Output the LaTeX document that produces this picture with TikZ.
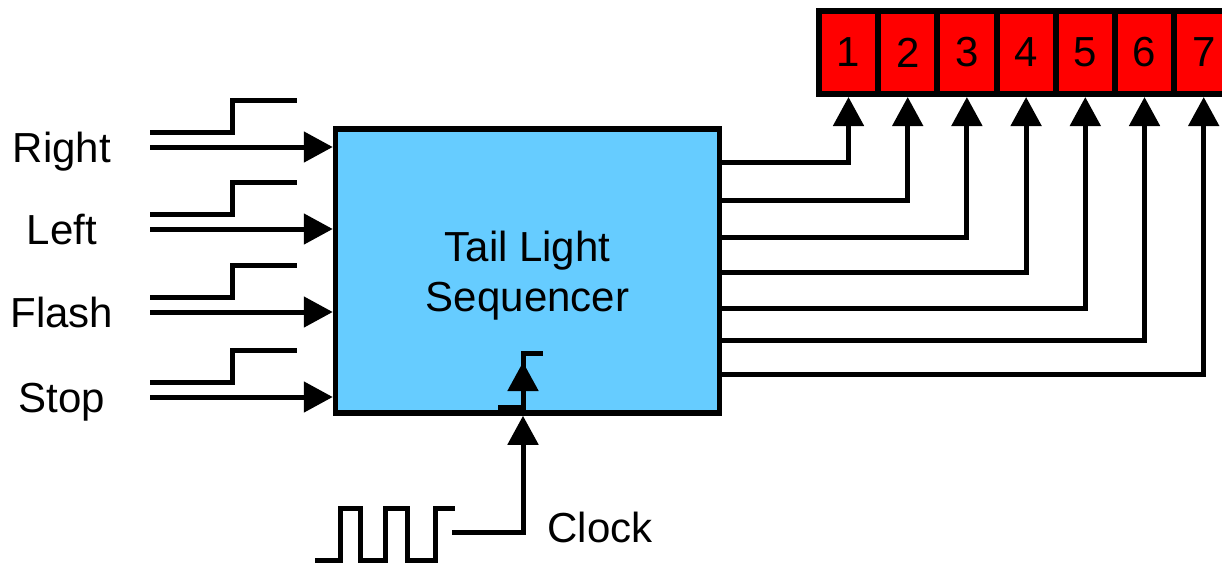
\documentclass[tikz,border=0pt]{standalone}
\usepackage{fontspec}
\setmainfont{Liberation Sans}
\usepackage{tikz}
\usetikzlibrary{positioning}
\usetikzlibrary{arrows.meta}
\definecolor{seqblue}{RGB}{102,204,255}
\definecolor{lampred}{RGB}{255,0,0}

\begin{document}
\begin{tikzpicture}[x=1pt, y=-1pt, line width=5pt,
  txt/.style={font=\fontsize{42}{50}\selectfont, inner sep=0pt},
  sig/.style={line width=5pt, -{Triangle[length=29pt,width=30pt]}},
  wave/.style={line width=5pt},
  lamp/.style={draw, line width=6pt, fill=lampred, minimum width=59.2pt, minimum height=83pt, inner sep=0pt, txt}]
\useasboundingbox (0,0) rectangle (1222,563);
% -- sequencer block --
\node[draw, fill=seqblue, line width=5.5pt, minimum width=384pt, minimum height=284pt] (seq) at (527.5,271) {};
\node[txt, align=center] (seqlabel) at (527.5,276) {Tail Light\\Sequencer};
% -- lamps --
\node[lamp] (lamp1) at (848.5,52.5) {1};
\node[lamp] (lamp2) at (907.7,52.5) {2};
\node[lamp] (lamp3) at (966.9,52.5) {3};
\node[lamp] (lamp4) at (1026.1,52.5) {4};
\node[lamp] (lamp5) at (1085.3,52.5) {5};
\node[lamp] (lamp6) at (1144.5,52.5) {6};
\node[lamp] (lamp7) at (1203.7,52.5) {7};
% -- outputs to lamps --
\draw[sig] (seq.east |- 0,162) -| (lamp1.south);
\draw[sig] (seq.east |- 0,200) -| (lamp2.south);
\draw[sig] (seq.east |- 0,237) -| (lamp3.south);
\draw[sig] (seq.east |- 0,272) -| (lamp4.south);
\draw[sig] (seq.east |- 0,308) -| (lamp5.south);
\draw[sig] (seq.east |- 0,340) -| (lamp6.south);
\draw[sig] (seq.east |- 0,374) -| (lamp7.south);
% -- input: Right --
\node[txt, anchor=base] (right) at (62,162) {Right};
\coordinate (inright) at (150,147);
\draw[sig] (inright) -- (seq.west |- inright);
\draw[wave] (150,132) -| (232,100) -- (297,100);
% -- input: Left --
\node[txt, anchor=base] (left) at (62,244) {Left};
\coordinate (inleft) at (150,229);
\draw[sig] (inleft) -- (seq.west |- inleft);
\draw[wave] (150,214) -| (232,182) -- (297,182);
% -- input: Flash --
\node[txt, anchor=base] (flash) at (62,327) {Flash};
\coordinate (inflash) at (150,312);
\draw[sig] (inflash) -- (seq.west |- inflash);
\draw[wave] (150,297) -| (232,265) -- (297,265);
% -- input: Stop --
\node[txt, anchor=base] (stop) at (62,412) {Stop};
\coordinate (instop) at (150,397);
\draw[sig] (instop) -- (seq.west |- instop);
\draw[wave] (150,382) -| (232,350) -- (297,350);
% -- clock --
\draw[wave] (315,560) -| (340,508) -| (360,560) -| (385,508) -| (407,560) -| (435,508) -- (455,508);
\coordinate (clkout) at (452,532);
\draw[sig] (clkout) -| ([xshift=-4.5pt]seq.south);
\node[txt, anchor=base] (clock) at (600,542) {Clock};
% -- edge mark --
\draw[wave] (498,407) -| (523,353) -- (543,353);
\draw[sig] (523,402) -- (523,362);
\end{tikzpicture}
\end{document}
